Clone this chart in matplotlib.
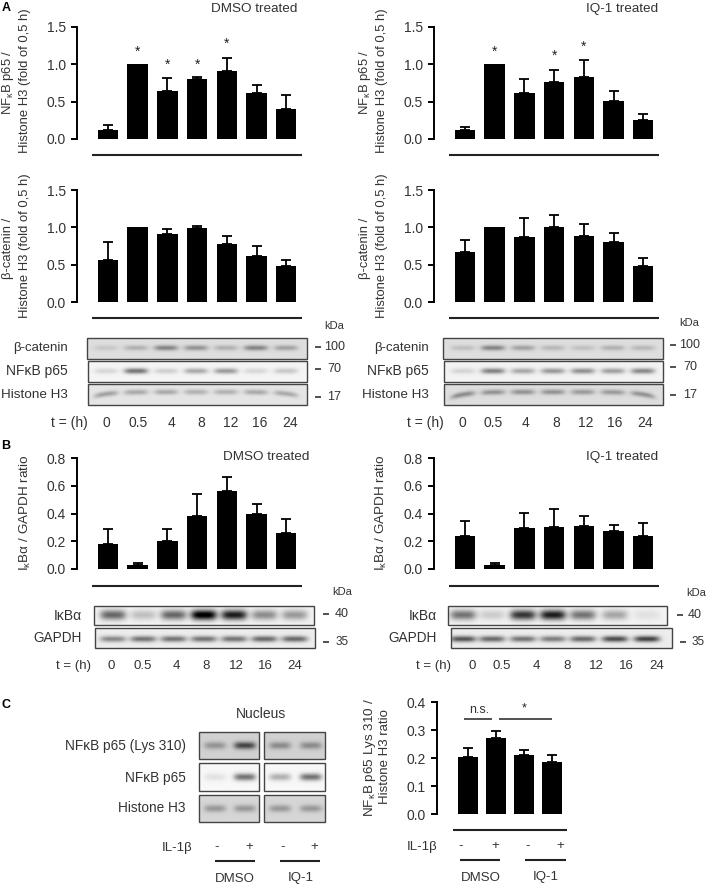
import numpy as np
import matplotlib
matplotlib.use("Agg")
import matplotlib.pyplot as plt
from matplotlib.patches import Rectangle

plt.rcParams["font.family"] = ["Liberation Sans", "DejaVu Sans"]
plt.rcParams["mathtext.fontset"] = "custom"
plt.rcParams["mathtext.rm"] = "Liberation Sans"
plt.rcParams["mathtext.it"] = "Liberation Sans"

W, H = 708, 886
TXT = "#333333"

# === Data ===
time_labels = ["0", "0.5", "4", "8", "12", "16", "24"]

p65_dmso = [0.125, 1.0, 0.645, 0.80, 0.905, 0.62, 0.40]
p65_dmso_top = [0.185, 1.0, 0.815, 0.825, 1.08, 0.725, 0.595]
p65_iq = [0.12, 1.0, 0.62, 0.76, 0.83, 0.51, 0.25]
p65_iq_top = [0.155, 1.0, 0.80, 0.93, 1.06, 0.64, 0.335]

cat_dmso = [0.56, 1.0, 0.91, 0.99, 0.78, 0.62, 0.48]
cat_dmso_top = [0.80, 1.0, 0.975, 1.02, 0.885, 0.755, 0.56]
cat_iq = [0.67, 1.0, 0.875, 1.01, 0.89, 0.80, 0.48]
cat_iq_top = [0.835, 1.0, 1.125, 1.17, 1.05, 0.93, 0.595]

ikb_dmso = [0.18, 0.03, 0.20, 0.385, 0.565, 0.395, 0.26]
ikb_dmso_top = [0.29, 0.04, 0.285, 0.54, 0.665, 0.47, 0.36]
ikb_iq = [0.24, 0.03, 0.295, 0.305, 0.31, 0.275, 0.235]
ikb_iq_top = [0.345, 0.045, 0.405, 0.43, 0.38, 0.32, 0.335]

lys = [0.203, 0.273, 0.21, 0.187]
lys_top = [0.236, 0.298, 0.23, 0.212]

# significance stars: bar index, height
stars_dmso = [(1, 1.17), (2, 1.0), (3, 1.0), (4, 1.27)]
stars_iq = [(1, 1.17), (3, 1.12), (4, 1.23)]

# band strength per lane
blot_cat_dmso = [0.15, 0.3, 0.6, 0.5, 0.3, 0.6, 0.4]
blot_p65_dmso = [0.2, 0.85, 0.25, 0.5, 0.6, 0.2, 0.3]
blot_h3_dmso = [0.45, 0.4, 0.4, 0.35, 0.35, 0.4, 0.4]
blot_cat_iq = [0.2, 0.6, 0.4, 0.25, 0.2, 0.3, 0.25]
blot_p65_iq = [0.2, 0.75, 0.5, 0.6, 0.65, 0.55, 0.7]
blot_h3_iq = [0.55, 0.5, 0.5, 0.5, 0.45, 0.45, 0.5]
blot_ikb_dmso = [0.55, 0.2, 0.55, 1.0, 0.85, 0.4, 0.35]
blot_gapdh_dmso = [0.5, 0.6, 0.6, 0.6, 0.6, 0.65, 0.65]
blot_ikb_iq = [0.5, 0.15, 0.75, 0.85, 0.5, 0.3, 0.07]
blot_gapdh_iq = [0.75, 0.65, 0.6, 0.55, 0.65, 0.8, 0.85]
blot_c_lys = [[0.35, 0.8], [0.4, 0.4]]
blot_c_p65 = [[0.12, 0.75], [0.4, 0.75]]
blot_c_h3 = [[0.35, 0.35], [0.35, 0.35]]

fig = plt.figure(figsize=(W / 100, H / 100), dpi=100, facecolor="white")

# overlay in pixel coordinates for text, rules and blots
ov = fig.add_axes([0, 0, 1, 1], zorder=5)
ov.patch.set_alpha(0)
ov.axis("off")


def t(x, y, s, size=10, ha="center", va="center", **kw):
    ov.text(x, y, s, fontsize=size, ha=ha, va=va, color=kw.pop("color", TXT), **kw)


def rule(x0, x1, y, lw=1.5, color="#222222"):
    ov.plot([x0, x1], [y, y], color=color, lw=lw, solid_capstyle="butt")


def bars(x_first, top, bottom, axis_x, right, ymax, yticks, vals, tops, step=29.7, stars=None):
    ax = fig.add_axes([axis_x / W, 1 - bottom / H, (right - axis_x) / W, (bottom - top) / H], zorder=2)
    ax.patch.set_alpha(0)
    xs = [x_first + step * i for i in range(len(vals))]
    ax.bar(xs, vals, width=20.5, color="black")
    # bars normalised to 1.0 have no error bar
    ex = [x for x, a, b in zip(xs, vals, tops) if b > a]
    ev = [a for a, b in zip(vals, tops) if b > a]
    errs = [b - a for a, b in zip(vals, tops) if b > a]
    ax.errorbar(ex, ev, yerr=[[0] * len(ex), errs], fmt="none", ecolor="black", elinewidth=1.3, capsize=3.9, capthick=1.3)
    ax.set_xlim(axis_x, right)
    ax.set_ylim(0, ymax)
    ax.set_xticks([])
    ax.set_yticks(yticks)
    ax.set_yticklabels(["%.1f" % v for v in yticks], fontsize=10, color=TXT)
    ax.tick_params(axis="y", length=4, width=1.4, pad=4)
    for s in ["top", "right", "bottom"]:
        ax.spines[s].set_visible(False)
    ax.spines["left"].set_linewidth(1.4)
    if stars:
        for i, y in stars:
            ax.text(xs[i], y, "*", ha="center", va="center", fontsize=10, color="#222222")
    return ax


def blot(x0, x1, y0, y1, lanes, strength, bg=0.9, half_w=12, sig_y=1.9, yc=0.5, dark=0.6, bend=0):
    nx, ny = int((x1 - x0) * 3), int((y1 - y0) * 3)
    xx = np.linspace(x0, x1, nx)
    yy = np.linspace(y0, y1, ny)
    X, Y = np.meshgrid(xx, yy)
    img = np.zeros_like(X)
    cy = y0 + (y1 - y0) * yc
    xc = (x0 + x1) / 2
    span = (x1 - x0) / 2
    curve = cy + bend * ((X - xc) / span) ** 6
    for lane, s in zip(lanes, strength):
        img += s * np.exp(-((X - lane) / half_w) ** 4) * np.exp(-((Y - curve) / sig_y) ** 2 / 2)
    img = np.clip(bg - img * dark, 0, 1)
    ov.imshow(img, cmap="gray", vmin=0, vmax=1, extent=(x0, x1, y1, y0), aspect="auto", interpolation="bilinear", zorder=1)
    ov.add_patch(Rectangle((x0, y0), x1 - x0, y1 - y0, fill=False, ec="#444444", lw=1, zorder=2))


def lanes(first, step=30, n=7):
    return [first + step * i for i in range(n)]


def marker(x_dash, x_txt, y, s, size=9):
    rule(x_dash, x_dash + 6, y, lw=1.1)
    t(x_txt, y, s, size=size)


# === Panel A ===
t(6, 8, "A", size=9, fontweight="bold", color="black")
t(254, 9, "DMSO treated", size=9.7)
t(622, 9, "IQ-1 treated", size=9.7)

ticks_a = [0, 0.5, 1.0, 1.5]
bars(108, 27, 139, 77, 310, 1.5, ticks_a, p65_dmso, p65_dmso_top, stars=stars_dmso)
bars(465, 27, 139, 434, 667, 1.5, ticks_a, p65_iq, p65_iq_top, stars=stars_iq)
bars(108, 190, 302, 77, 310, 1.5, ticks_a, cat_dmso, cat_dmso_top)
bars(465, 190, 302, 434, 667, 1.5, ticks_a, cat_iq, cat_iq_top)

p65_lab = "NF$_{\\mathregular{\u03ba}}$B p65 /"
cat_lab = "\u03b2-catenin /"
h3_lab = "Histone H3 (fold of 0,5 h)"
for x0 in (8, 365):
    t(x0, 82, p65_lab, size=9.4, rotation=90)
    t(x0 + 17, 81, h3_lab, size=9.4, rotation=90)
    t(x0, 248, cat_lab, size=9.4, rotation=90)
    t(x0 + 17, 246, h3_lab, size=9.4, rotation=90)

rule(92, 302, 155)
rule(449, 659, 155)
rule(92, 302, 318)
rule(449, 659, 318)

t(334, 326, "kDa", size=8)
t(689, 323, "kDa", size=8)

la = lanes(106)
blot(87, 307, 338, 359, la, blot_cat_dmso, bg=0.87, yc=0.47)
blot(88, 307, 361, 382, la, blot_p65_dmso, bg=0.96, yc=0.5)
blot(88, 307, 384, 405, la, blot_h3_dmso, bg=0.9, yc=0.38, bend=6)
la = lanes(463)
blot(443, 663, 338, 359, la, blot_cat_iq, bg=0.87, yc=0.47)
blot(444, 663, 361, 382, la, blot_p65_iq, bg=0.95, yc=0.5)
blot(444, 663, 384, 405, la, blot_h3_iq, bg=0.87, yc=0.38, bend=8)

for x_r in (68, 429):
    t(x_r, 348, "\u03b2-catenin", size=9.5, ha="right")
    t(x_r, 371, "NF\u03baB p65", size=10, ha="right")
    t(x_r, 395, "Histone H3", size=9.7, ha="right")

marker(315, 335, 347, "100")
marker(315, 334, 369, "70")
marker(315, 334, 397, "17")
marker(670, 690, 345, "100")
marker(670, 690, 367, "70")
marker(670, 690, 395, "17")

t(69, 423, "t = (h)", size=10)
t(425, 423, "t = (h)", size=10)
for x, s in zip([106, 138, 171, 201, 231, 260, 290], time_labels):
    t(x, 423, s, size=10)
for x, s in zip([462, 493, 526, 556, 586, 615, 645], time_labels):
    t(x, 423, s, size=10)

# === Panel B ===
t(6, 446, "B", size=9, fontweight="bold", color="black")
t(266, 457, "DMSO treated", size=9.7)
t(622, 457, "IQ-1 treated", size=9.7)

ticks_b = [0, 0.2, 0.4, 0.6, 0.8]
bars(108, 458, 569, 77, 310, 0.8, ticks_b, ikb_dmso, ikb_dmso_top)
bars(465, 458, 569, 434, 667, 0.8, ticks_b, ikb_iq, ikb_iq_top)

ikb_lab = "I$_{\\mathregular{\u03ba}}$B$\\mathregular{\u03b1}$ / GAPDH ratio"
t(25, 513, ikb_lab, size=9.7, rotation=90)
t(381, 513, ikb_lab, size=9.7, rotation=90)

rule(92, 302, 586)
rule(449, 659, 586)
t(342, 592, "kDa", size=8)
t(696, 593, "kDa", size=8)

la = lanes(113, 30.3)
blot(94, 314, 606, 625, la, blot_ikb_dmso, half_w=13, sig_y=3.6, bg=0.95, dark=1.0, yc=0.47)
blot(95, 315, 628, 648, la, blot_gapdh_dmso, half_w=13, sig_y=2.2, bg=0.93, dark=0.8, yc=0.55)
la = [463, 492, 523, 553, 583, 615, 647]
blot(448, 667, 606, 625, la, blot_ikb_iq, half_w=13, sig_y=3.6, bg=0.95, dark=1.0, yc=0.47)
blot(451, 672, 628, 648, la, blot_gapdh_iq, half_w=13, sig_y=2.2, bg=0.93, dark=0.8, yc=0.55)

t(82, 616, "I\u03baB\u03b1", size=10, ha="right")
t(437, 616, "I\u03baB\u03b1", size=10, ha="right")
t(82, 638, "GAPDH", size=9.8, ha="right")
t(437, 638, "GAPDH", size=9.8, ha="right")

marker(323, 342, 614, "40")
marker(677, 695, 615, "40")
marker(323, 342, 642, "35", size=8.5)
marker(680, 698, 642, "35", size=8.5)

t(73, 666, "t = (h)", size=9.5)
t(434, 666, "t = (h)", size=9.5)
for x, s in zip([111, 143, 176, 206, 236, 265, 295], time_labels):
    t(x, 666, s, size=9.5)
for x, s in zip([472, 502, 536, 567, 596, 626, 657], time_labels):
    t(x, 666, s, size=9.5)

# === Panel C ===
t(6, 705, "C", size=9, fontweight="bold", color="black")
t(261, 714, "Nucleus", size=10)

rows_c = [(732, 759, blot_c_lys, 0.82), (763, 791, blot_c_p65, 0.97), (795, 822, blot_c_h3, 0.84)]
for y0, y1, vals, bg in rows_c:
    blot(199, 259, y0, y1, [215, 245], vals[0], bg=bg, half_w=11, sig_y=2.6, dark=0.7)
    blot(264, 325, y0, y1, [280, 311], vals[1], bg=bg, half_w=11, sig_y=2.6, dark=0.7)

t(186, 746, "NF\u03baB p65 (Lys 310)", size=9.8, ha="right")
t(186, 778, "NF\u03baB p65", size=9.8, ha="right")
t(186, 808, "Histone H3", size=9.8, ha="right")

ticks_c = [0, 0.1, 0.2, 0.3, 0.4]
bars(468, 702, 814, 437, 575, 0.4, ticks_c, lys, lys_top, step=28)
t(370, 757, "NF$_{\\mathregular{\u03ba}}$B p65 Lys 310 /", size=9.7, rotation=90)
t(385, 757, "Histone H3 ratio", size=9.5, rotation=90)

t(479, 710, "n.s.", size=9)
rule(464, 492, 719, lw=1.1)
t(524, 708, "*", size=9, color="#222222")
rule(499, 552, 719, lw=1.1)
rule(453, 567, 830)

beta_lab = "IL-1\u03b2"
t(192, 848, beta_lab, size=9.5, ha="right")
t(437, 847, beta_lab, size=9.5, ha="right")
for x, s in zip([217, 249, 283, 314], ["-", "+", "-", "+"]):
    t(x, 847, s, size=9.5)
for x, s in zip([461, 495, 528, 560], ["-", "+", "-", "+"]):
    t(x, 846, s, size=9.5)
rule(215, 255, 861)
rule(280, 320, 861)
rule(460, 500, 860)
rule(525, 566, 860)
t(235, 879, "DMSO", size=9.5)
t(301, 878, "IQ-1", size=9.5)
t(481, 878, "DMSO", size=9.5)
t(546, 877, "IQ-1", size=9.5)

ov.set_xlim(0, W)
ov.set_ylim(H, 0)

fig.savefig("out.png", dpi=100)
